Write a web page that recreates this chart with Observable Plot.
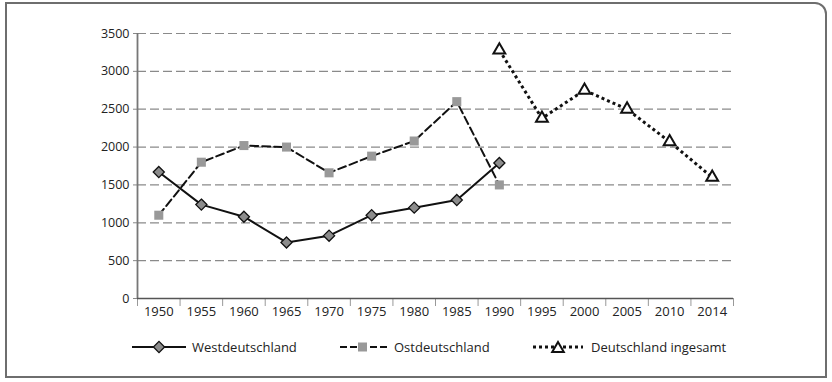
<!DOCTYPE html>
<html>
<head>
<meta charset="utf-8">
<script src="https://cdn.jsdelivr.net/npm/d3@7"></script>
<script src="https://cdn.jsdelivr.net/npm/@observablehq/plot@0.6"></script>
<style>
  html, body { margin: 0; padding: 0; background: #fff; }
  #box {
    position: absolute; left: 5px; top: 2px; width: 818px; height: 372px;
    border: 2px solid #6e6e6e; border-top-right-radius: 12px; background: #fff;
    font-family: "Open Sans", sans-serif; color: #222;
  }
  #chart { position: absolute; left: 0; top: 0; }
  .leg { position: absolute; top: 333px; height: 20px; display: flex; align-items: center; font-size: 13px; white-space: nowrap; }
  .leg svg { display: block; margin-right: 6px; }
</style>
</head>
<body>
<div id="box">
  <div id="chart"></div>
  <div class="leg" style="left:125px"><svg width="54" height="16"><line x1="0" x2="54" y1="8" y2="8" stroke="#111" stroke-width="2"/><path transform="translate(27,8)" d="M0,-5.6L5.6,0L0,5.6L-5.6,0Z" fill="#8c8c8c" stroke="#111" stroke-width="1.3"/></svg><span>Westdeutschland</span></div>
  <div class="leg" style="left:333px"><svg width="48" height="16"><line x1="0" x2="48" y1="8" y2="8" stroke="#111" stroke-width="2" stroke-dasharray="7,3"/><rect x="18" y="3.5" width="9" height="9" fill="#999"/></svg><span>Ostdeutschland</span></div>
  <div class="leg" style="left:526px"><svg width="52" height="16"><line x1="0" x2="50" y1="8" y2="8" stroke="#111" stroke-width="3" stroke-dasharray="3,3"/><path transform="translate(25,8)" d="M0,-5L5.8,5L-5.8,5Z" fill="#fff" stroke="#111" stroke-width="2"/></svg><span>Deutschland ingesamt</span></div>
</div>
<script>
const years = ["1950","1955","1960","1965","1970","1975","1980","1985","1990","1995","2000","2005","2010","2014"];
const yTicks = [0, 500, 1000, 1500, 2000, 2500, 3000, 3500];

const westYears = ["1950","1955","1960","1965","1970","1975","1980","1985","1990"];
const westValues = [1670, 1240, 1080, 740, 830, 1100, 1200, 1300, 1790];

const ostYears = ["1950","1955","1960","1965","1970","1975","1980","1985","1990"];
const ostValues = [1100, 1800, 2020, 2000, 1660, 1880, 2080, 2600, 1500];

const gesamtYears = ["1990","1995","2000","2005","2010","2014"];
const gesamtValues = [3280, 2380, 2750, 2500, 2070, 1600];

const toRows = (ys, vs) => ys.map((y, i) => ({x: years.indexOf(y) + 0.5, v: vs[i]}));
const west = toRows(westYears, westValues);
const ost = toRows(ostYears, ostValues);
const gesamt = toRows(gesamtYears, gesamtValues);

const centers = years.map((_, i) => i + 0.5);
const bounds = d3.range(0, years.length + 1);

const chart = Plot.plot({
  width: 818, height: 326,
  marginLeft: 130, marginRight: 92, marginTop: 29, marginBottom: 32,
  style: {fontFamily: "Open Sans, sans-serif", fontSize: "12.5px", color: "#222", background: "transparent", overflow: "visible"},
  x: {domain: [0, years.length], axis: null},
  y: {domain: [0, 3500], axis: null},
  marks: [
    Plot.ruleY(yTicks.filter(d => d > 0), {stroke: "#8a8a8a", strokeWidth: 1.2, strokeDasharray: "9,4"}),
    Plot.axisY({ticks: yTicks, tickSize: 4, tickPadding: 4, tickFormat: d => String(d), stroke: "#888", fill: "#222", fontSize: 12.5, label: null}),
    Plot.axisX({ticks: bounds, tickSize: 8, tickFormat: () => "", stroke: "#999", label: null}),
    Plot.axisX({ticks: centers, tickSize: 0, tickPadding: 8, tickFormat: d => years[Math.floor(d)], fill: "#222", fontSize: 13, label: null}),
    Plot.ruleX([0], {stroke: "#777", strokeWidth: 1.8}),
    Plot.ruleY([0], {stroke: "#555", strokeWidth: 1.5}),
    Plot.line(ost, {x: "x", y: "v", stroke: "#111", strokeWidth: 2, strokeDasharray: "8,4"}),
    Plot.line(west, {x: "x", y: "v", stroke: "#111", strokeWidth: 2}),
    Plot.line(gesamt, {x: "x", y: "v", stroke: "#111", strokeWidth: 3, strokeDasharray: "3,3", strokeLinecap: "butt"}),
    Plot.dot(ost, {x: "x", y: "v", symbol: "square", r: 5.1, fill: "#999", stroke: "none"}),
    Plot.dot(west, {x: "x", y: "v", symbol: "diamond2", r: 5, fill: "#8c8c8c", stroke: "#111", strokeWidth: 1.3}),
    Plot.dot(gesamt, {x: "x", y: "v", symbol: "triangle", r: 4.4, fill: "#fff", stroke: "#111", strokeWidth: 2})
  ]
});
document.getElementById("chart").appendChild(chart);
</script>
</body>
</html>
